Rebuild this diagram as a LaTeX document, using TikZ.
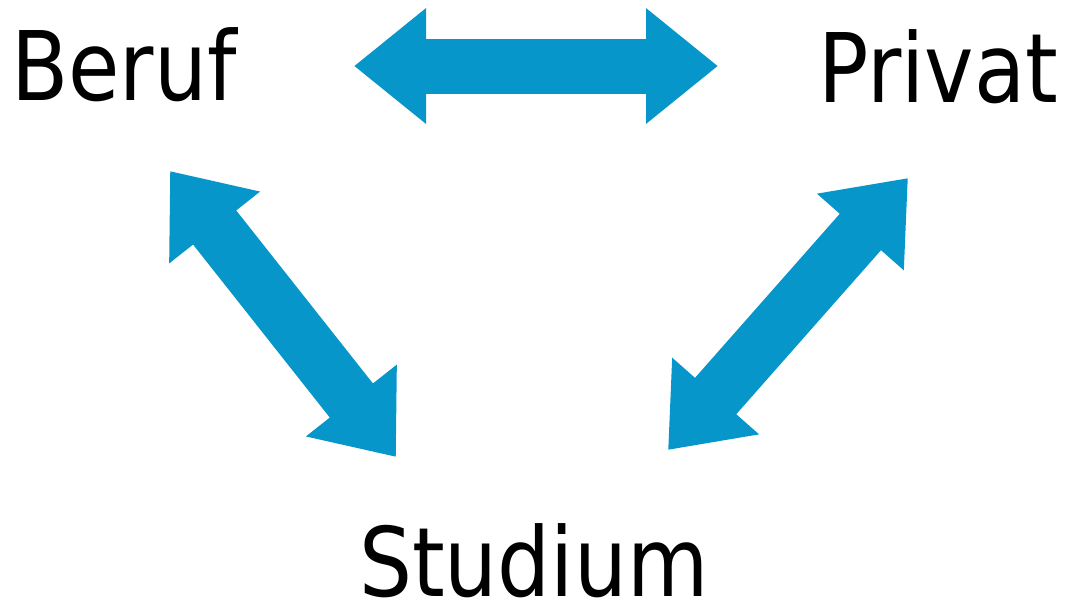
\documentclass[tikz,border=0pt]{standalone}
\usepackage{fontspec}
\setmainfont{DejaVu Sans}[FakeStretch=0.87]
\usetikzlibrary{arrows.meta}
\definecolor{arrowblue}{HTML}{0796C9}
\tikzset{
  word/.style={font=\fontsize{96}{100}\selectfont, inner sep=0pt, text depth=0pt, anchor=base west, text=black},
  bigarrow/.style={draw=arrowblue, line width=55pt,
    {Triangle[width=111pt,length=72pt]}-{Triangle[width=111pt,length=72pt]}}
}
\begin{document}
\begin{tikzpicture}[x=1pt,y=-1pt]
\useasboundingbox (0,0) rectangle (1068,606);
\node[word] (beruf) at (11,100) {Beruf};
\node[word] (privat) at (818,102) {Privat};
\node[word] (studium) at (359,596) {Studium};
\coordinate (t1) at (354,66);
\coordinate (t2) at (718,66);
\coordinate (l1) at (170,171);
\coordinate (l2) at (396,457);
\coordinate (r1) at (908,178);
\coordinate (r2) at (668,450);
\draw[bigarrow] (t1) -- (t2);
\draw[bigarrow] (l1) -- (l2);
\draw[bigarrow] (r1) -- (r2);
\end{tikzpicture}
\end{document}
